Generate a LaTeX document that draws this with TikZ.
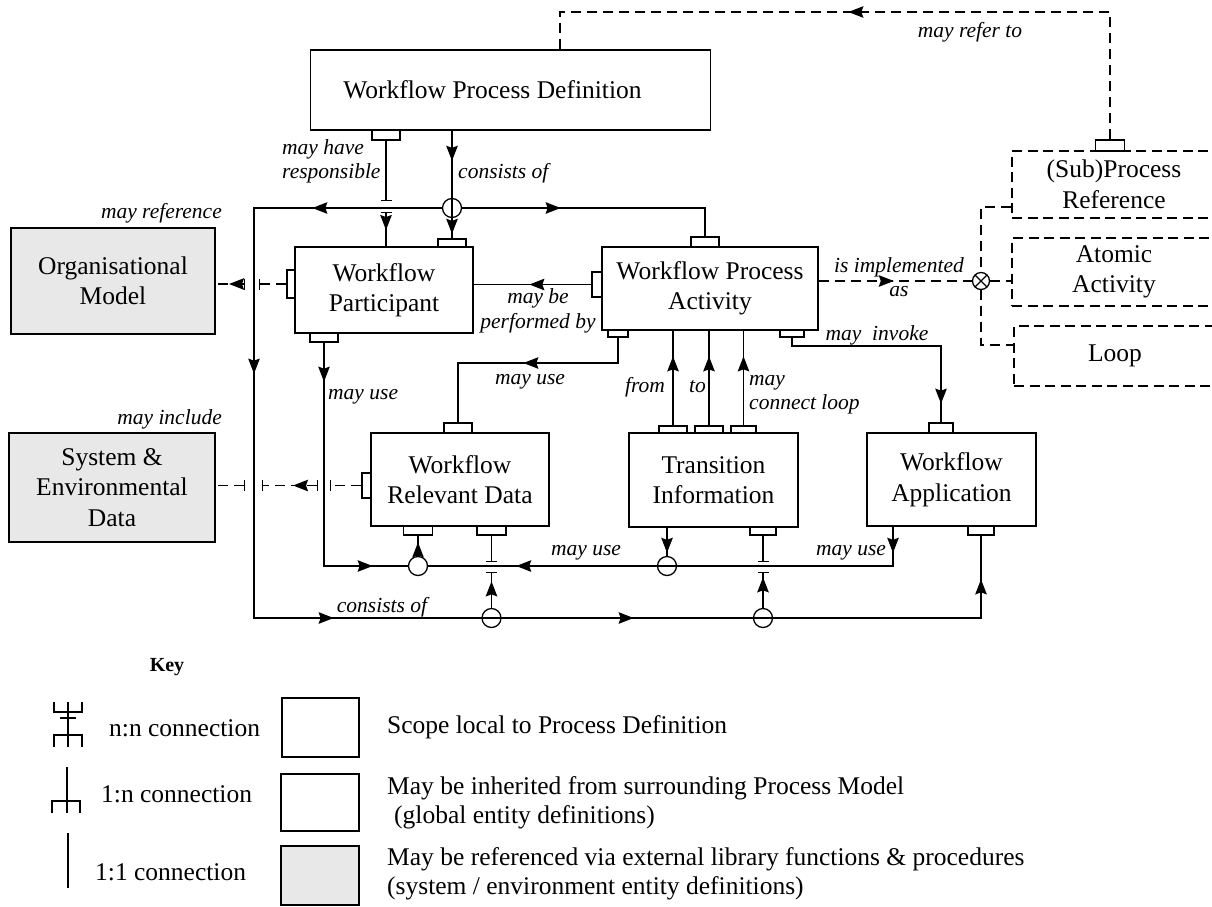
\documentclass[tikz,border=0pt]{standalone}
\usepackage{fontspec}
\setmainfont{Liberation Serif}
\usetikzlibrary{arrows.meta,decorations.markings}
\definecolor{libgray}{RGB}{232,232,232}

\begin{document}
\begin{tikzpicture}[x=1pt, y=-1pt,
  >={Stealth[length=15pt,width=11.5pt,inset=2pt]},
  every node/.style={font=\fontsize{25.5}{30.5}\selectfont},
  box/.style={draw, line width=1.6pt, inner sep=0pt, align=center},
  libbox/.style={box, fill=libgray},
  dbox/.style={box, dash pattern=on 10pt off 5.5pt},
  fork/.style={draw, line width=1.3pt, inner sep=0pt},
  jn/.style={circle, draw, line width=1.3pt, minimum size=19pt, inner sep=0pt},
  xjn/.style={jn, minimum size=17pt, path picture={\draw[line width=1.3pt]
      (path picture bounding box.north west) -- (path picture bounding box.south east)
      (path picture bounding box.north east) -- (path picture bounding box.south west);}},
  txt/.style={inner sep=0pt},
  lbl/.style={font=\fontsize{21.5}{24.5}\selectfont\itshape, inner sep=0pt},
  con/.style={line width=1.45pt},
  dcon/.style={con, dash pattern=on 10pt off 6pt},
  arr at/.style={postaction={decorate, decoration={markings,
      mark=at position #1 with {\arrow{>}}}}},
  barend/.style={-{Bar[width=11pt]}},
  barstart/.style={{Bar[width=11pt]}-},
  barboth/.style={{Bar[width=11pt]}-{Bar[width=11pt]}}]

\useasboundingbox (0,0) rectangle (1212,906);

%% boxes
\node[box, minimum width=400pt, minimum height=80pt,
  label={[xshift=-18pt]center:Workflow Process Definition}] (wpd) at (510.5,90) {};
\node[libbox, minimum width=204pt, minimum height=106pt] (org) at (113,281) {Organisational\\Model};
\node[libbox, minimum width=206pt, minimum height=109pt] (sed) at (112,487.5) {System \&\\Environmental\\Data};
\node[box, minimum width=178pt, minimum height=86pt] (wp) at (384,290) {Workflow\\Participant};
\node[box, minimum width=216pt, minimum height=83pt] (wpa) at (710,288.5) {Workflow Process\\Activity};
\node[box, minimum width=178pt, minimum height=93pt] (wrd) at (460,479.5) {Workflow\\Relevant Data};
\node[box, minimum width=169pt, minimum height=94pt] (ti) at (713.5,480) {Transition\\Information};
\node[box, minimum width=169pt, minimum height=93pt] (wapp) at (951.5,479.5) {Workflow\\Application};
\node[dbox, minimum width=204pt, minimum height=67pt] (spr) at (1114,184.5) {(Sub)Process\\Reference};
\node[dbox, minimum width=204pt, minimum height=68pt] (atom) at (1114,272) {Atomic\\Activity};
\node[dbox, minimum width=202pt, minimum height=60pt] (loop) at (1115,356) {Loop};

%% connection forks
\node[fork, minimum width=28pt, minimum height=10pt] (wpdF) at (386,135) {};
\node[fork, minimum width=28pt, minimum height=8pt] (wpF) at (452,243) {};
\node[fork, minimum width=8pt, minimum height=28pt] (wpLF) at (291,284) {};
\node[fork, minimum width=28pt, minimum height=9pt] (wpBF) at (324,337.5) {};
\node[fork, minimum width=28pt, minimum height=10pt] (wpaTF) at (705,242) {};
\node[fork, minimum width=10pt, minimum height=25pt] (wpaLF) at (597,284.5) {};
\node[fork, minimum width=20pt, minimum height=7pt] (wpaBLF) at (618,333.5) {};
\node[fork, minimum width=24pt, minimum height=7pt] (wpaBRF) at (792,333.5) {};
\node[fork, minimum width=28pt, minimum height=10pt] (wrdTF) at (458,428) {};
\node[fork, minimum width=9pt, minimum height=25pt] (wrdLF) at (366.5,485.5) {};
\node[fork, minimum width=29pt, minimum height=9pt] (wrdBLF) at (418,530.5) {};
\node[fork, minimum width=29pt, minimum height=9pt] (wrdBRF) at (491.5,530.5) {};
\node[fork, minimum width=28pt, minimum height=7pt] (tiF1) at (673,429.5) {};
\node[fork, minimum width=28pt, minimum height=7pt] (tiF2) at (709,429.5) {};
\node[fork, minimum width=25pt, minimum height=7pt] (tiF3) at (743.5,429.5) {};
\node[fork, minimum width=26pt, minimum height=8pt] (tiBRF) at (763,531) {};
\node[fork, minimum width=24pt, minimum height=10pt] (wappTF) at (941,428) {};
\node[fork, minimum width=26pt, minimum height=9pt] (wappBRF) at (981,530.5) {};
\node[fork, minimum width=29pt, minimum height=11pt] (sprF) at (1110,145.5) {};

%% junctions
\node[jn] (cj) at (452,208) {};
\node[jn] (c1) at (491.5,618) {};
\node[jn] (c2) at (763,618) {};
\node[jn] (c3) at (418,566) {};
\node[jn] (c4) at (667,566) {};
\node[xjn] (xj) at (981,281) {};

%% bends and crossings
\coordinate (refR) at (1110,12);
\coordinate (refL) at (560,12);
\coordinate (respA) at (386,201);
\coordinate (respB) at (386,212);
\coordinate (busTL) at (254,208);
\coordinate (busTR) at (705,208);
\coordinate (busBL) at (254,618);
\coordinate (busBR) at (981,618);
\coordinate (useL) at (324,566);
\coordinate (useR) at (893,566);
\coordinate (wpaU) at (618,363);
\coordinate (wrdU) at (458,363);
\coordinate (invA) at (792,346);
\coordinate (invB) at (941,346);
\coordinate (brT) at (981,207);
\coordinate (brB) at (981,345);
\coordinate (crA1) at (491.5,572);
\coordinate (crA2) at (491.5,562);
\coordinate (crB1) at (763,572);
\coordinate (crB2) at (763,562);
\coordinate (orgA) at (259,284);
\coordinate (orgB) at (245,284);
\coordinate (sedA) at (330,485.5);
\coordinate (sedB) at (318,485.5);
\coordinate (sedC) at (262,485.5);
\coordinate (sedD) at (245,485.5);

%%% connectors
\draw[dcon, arr at=389pt] (sprF.north) -- (refR) -- (refL) -- (wpd.north -| refL);
\draw[con, barend] (wpdF.south) -- (respA);
\draw[con, barstart, arr at=18pt] (respB) -- (wp.north -| respB);
\draw[con, arr at=30pt, arr at=103pt] (wpd.south -| cj) -- (wpF.north);
\draw[con, arr at=129.5pt, arr at=353.5pt, arr at=677.5pt, arr at=977.5pt, arr at=1363.5pt]
  (cj.west) -- (busTL) -- (busBL) -- (busBR) -- (wappBRF.south);
\draw[con, arr at=98.5pt] (cj.east) -- (busTR) -- (wpaTF.north);

\draw[con, barend, arr at=26.5pt] (c1.north) -- (crA1);
\draw[con, barstart] (crA2) -- (wrdBRF.south);
\draw[con, barend, arr at=30.5pt] (c2.north) -- (crB1);
\draw[con, barstart] (crB2) -- (tiBRF.south);

\draw[con, arr at=39pt, arr at=272pt] (wpBF.south) -- (useL) -- (c3.west);
\draw[con, arr at=26pt, arr at=416pt] (wapp.south -| useR) -- (useR) -- (c3.east);
\draw[con, arr at=13.5pt] (c3.north) -- (wrdBLF.south);
\draw[con, arr at=25pt] (ti.south -| c4) -- (c4.north);

\draw[con, arr at=62pt] (wpaLF.west) -- (wp.east |- wpaLF);
\draw[con, arr at=120pt] (wpaBLF.south) -- (wpaU) -- (wrdU) -- (wrdTF.north);
\draw[con, arr at=215pt] (wpaBRF.south) -- (invA) -- (invB) -- (wappTF.north);
\foreach \f in {tiF1,tiF2,tiF3}
  \draw[con, arr at=69pt] (\f.north) -- (wpa.south -| \f);

\draw[dcon, barend] (wpLF.west) -- (orgA);
\draw[dcon, barstart, arr at=16pt] (orgB) -- (org.east |- orgB);
\draw[dcon, barend] (wrdLF.west) -- (sedA);
\draw[dcon, barboth, arr at=25pt] (sedB) -- (sedC);
\draw[dcon, barstart] (sedD) -- (sed.east |- sedD);

\draw[dcon, arr at=75pt] (wpa.east |- xj) -- (xj.west);
\draw[dcon] (xj.east) -- (atom.west |- xj);
\draw[dcon] (spr.west |- brT) -- (brT) -- (xj.north);
\draw[dcon] (xj.south) -- (brB) -- (loop.west |- brB);

%% labels
\node[lbl] (lrefer) at (970,32) {may refer to};
\node[lbl, align=left, anchor=west] (lresp) at (282,161.5) {may have\\responsible};
\node[lbl, anchor=west] (lcons) at (458,173) {consists of};
\node[lbl, anchor=east] (lref) at (222,213) {may reference};
\node[lbl, anchor=east] (lincl) at (222,419) {may include};
\node[lbl, align=center] (lperf) at (538,311) {may be\\performed by};
\node[lbl] (luseA) at (530,382) {may use};
\node[lbl, anchor=west] (luseB) at (328,397) {may use};
\node[lbl] (lfrom) at (645,387) {from};
\node[lbl] (lto) at (697.5,387) {to};
\node[lbl, align=left, anchor=west] (lloop) at (749,394.5) {may\\connect loop};
\node[lbl] (linv) at (877,335) {may\ \ invoke};
\node[lbl, align=center] (limpl) at (899,277) {is implemented\\as};
\node[lbl] (lconsB) at (382,607) {consists of};
\node[lbl] (luseC) at (586,553) {may use};
\node[lbl] (luseD) at (851,553) {may use};

%% key
\node[txt, font=\fontsize{20}{24}\selectfont\bfseries] (keyt) at (167,667) {Key};
\draw[con] (68,702) -- (68,747);
\draw[con] (54,702) -- (54,712) -- (82,712) -- (82,702);
\draw[con] (60,718) -- (76,718);
\draw[con] (54,747) -- (54,735) -- (82,735) -- (82,747);
\draw[con] (67,767) -- (67,813);
\draw[con] (52,813) -- (52,801) -- (80,801) -- (80,813);
\draw[con] (68,833) -- (68,888);
\node[txt, anchor=west] (knn) at (109,728) {n:n connection};
\node[txt, anchor=west] (k1n) at (101,794) {1:n connection};
\node[txt, anchor=west] (k11) at (95,872) {1:1 connection};
\node[box, minimum width=77pt, minimum height=59pt] (k1) at (320.5,727.5) {};
\node[box, minimum width=78pt, minimum height=57pt] (k2) at (320,802.5) {};
\node[libbox, minimum width=78pt, minimum height=59pt] (k3) at (320,875.5) {};
\node[txt, anchor=west] (kd1) at (387,727) {Scope local to Process Definition};
\node[txt, anchor=west, align=left, font=\fontsize{25.5}{29}\selectfont] (kd2) at (387,802.5)
  {May be inherited from surrounding Process Model\\\hspace*{7pt}(global entity definitions)};
\node[txt, anchor=west, align=left, font=\fontsize{25.5}{29}\selectfont] (kd3) at (387,874)
  {May be referenced via external library functions \& procedures\\(system / environment entity definitions)};

\end{tikzpicture}
\end{document}
